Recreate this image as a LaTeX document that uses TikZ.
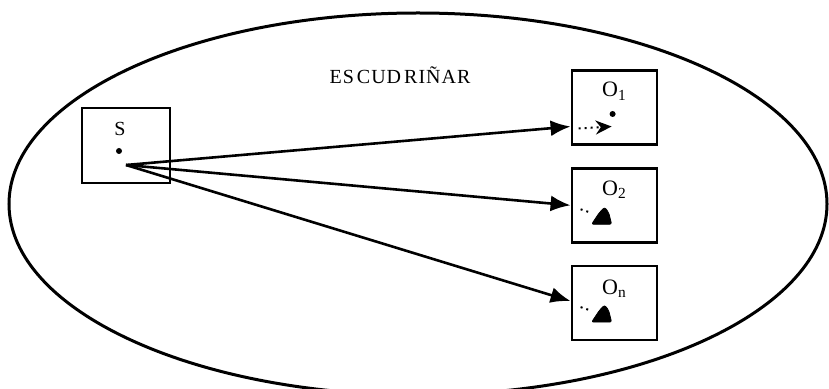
\documentclass[tikz,border=0pt]{standalone}
\usepackage{fontspec}
\setmainfont{Liberation Serif}
\usetikzlibrary{positioning,calc,arrows.meta}

\tikzset{
  box/.style={draw, line width=1.4pt, minimum width=42.5pt, minimum height=37pt, inner sep=0pt},
  ray/.style={line width=1.3pt, -{Latex[length=10pt,width=8pt]}},
  spot/.style={circle, fill, inner sep=0pt, minimum size=3pt},
  trail/.style={dotted, line width=1pt},
  blob/.style={fill, rounded corners=1pt},
}

\begin{document}
\begin{tikzpicture}[x=0.5pt, y=-0.5pt, node distance=10.5pt]
    \useasboundingbox (0,0) rectangle (829,389);
    % the whole space
    \draw[line width=1.5pt] (418,204) ellipse [x radius=204.5pt, y radius=95.5pt];
    \node (title) at (400,75) {\addfontfeature{LetterSpace=5}ES\kern1.5pt CUD\kern1.5pt RIÑAR};

    % subject
    \node [box, minimum width=44pt, minimum height=37.5pt] (S) at (126,145.5) {};
    \node (Slab) at (120,129) {S};
    \node [spot] (Sdot) at (119,151) {};
    \coordinate (src) at (126,165);

    % objects
    \node [box] (O1) at (614.5,107.5) {};
    \node [box, below=of O1] (O2) {};
    \node [box, below=of O2] (On) {};
    \node (O1lab) at ($(O1.north)+(0,22)$) {\fontsize{11}{12}\selectfont O\textsubscript{1}};
    \node (O2lab) at ($(O2.north)+(0,23)$) {\fontsize{11}{12}\selectfont O\textsubscript{2}};
    \node (Onlab) at ($(On.north)+(0,24)$) {\fontsize{11}{12}\selectfont O\textsubscript{n}};

    \draw[ray] (src) -- ($(O1.west)+(0,19)$);
    \draw[ray] (src) -- (O2.west);
    \draw[ray] (src) -- ($(On.west)+(0,-2)$);

    % what is seen inside
    \node [spot] (O1dot) at ($(O1.west)+(42,6.5)$) {};
    \draw[trail, -{Stealth[length=8pt,width=7pt]}] ($(O1.west)+(8,21)$) -- ($(O1.west)+(41,19)$);
    \foreach \o in {O2,On} {
        \draw[trail] ($(\o.west)+(10,4)$) -- ($(\o.west)+(19,7)$);
        \draw[blob] ($(\o.west)+(21,19)$) -- ($(\o.west)+(29,7)$) -- ($(\o.west)+(34,2)$)
            -- ($(\o.west)+(38,7)$) -- ($(\o.west)+(41,19)$) -- cycle;
    }
\end{tikzpicture}
\end{document}
